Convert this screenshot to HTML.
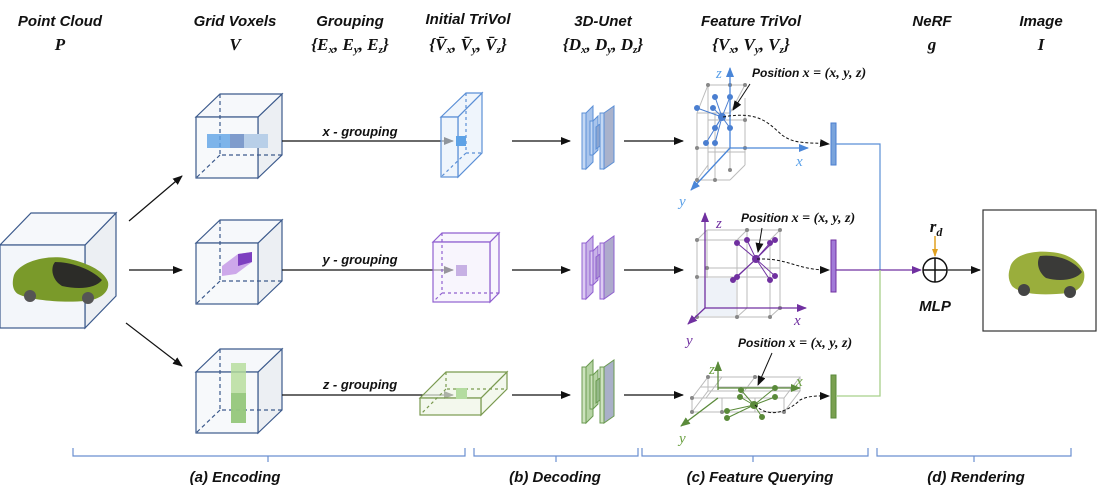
<!DOCTYPE html>
<html><head><meta charset="utf-8"><style>
body{margin:0;background:#fff}
svg{display:block}
.h{font-family:"Liberation Sans",sans-serif;font-weight:bold;font-style:italic;font-size:15px;fill:#111;text-anchor:middle}
.m{font-family:"Liberation Serif",serif;font-weight:bold;font-style:italic;font-size:17px;fill:#111;text-anchor:middle}
.g{font-family:"Liberation Sans",sans-serif;font-weight:bold;font-style:italic;font-size:13px;fill:#111;text-anchor:middle}
.p{font-family:"Liberation Sans",sans-serif;font-weight:bold;font-style:italic;font-size:12px;fill:#111}
.ax{font-family:"Liberation Serif",serif;font-style:italic;font-size:15px}
</style></head><body>
<svg width="1106" height="497" viewBox="0 0 1106 497" xmlns="http://www.w3.org/2000/svg">
<defs>
<marker id="a" markerWidth="10" markerHeight="8" refX="9" refY="4" orient="auto" markerUnits="userSpaceOnUse"><path d="M0,0L10,4L0,8z" fill="#111"/></marker>
<marker id="ab" markerWidth="10" markerHeight="8" refX="9" refY="4" orient="auto" markerUnits="userSpaceOnUse"><path d="M0,0L10,4L0,8z" fill="#4a86d8"/></marker>
<marker id="ap" markerWidth="10" markerHeight="8" refX="9" refY="4" orient="auto" markerUnits="userSpaceOnUse"><path d="M0,0L10,4L0,8z" fill="#7030a0"/></marker>
<marker id="ag" markerWidth="10" markerHeight="8" refX="9" refY="4" orient="auto" markerUnits="userSpaceOnUse"><path d="M0,0L10,4L0,8z" fill="#5a8a3a"/></marker>
<marker id="ao" markerWidth="8" markerHeight="6" refX="7" refY="3" orient="auto" markerUnits="userSpaceOnUse"><path d="M0,0L8,3L0,6z" fill="#e0a020"/></marker>
</defs>

<!-- headers -->
<text class="h" x="60" y="26">Point Cloud</text><text class="m" x="60" y="50">P</text>
<text class="h" x="235" y="26">Grid Voxels</text><text class="m" x="235" y="50">V</text>
<text class="h" x="350" y="26">Grouping</text><text class="m" x="350" y="50">{E<tspan font-size="11" dy="3">x</tspan><tspan dy="-3">, E</tspan><tspan font-size="11" dy="3">y</tspan><tspan dy="-3">, E</tspan><tspan font-size="11" dy="3">z</tspan><tspan dy="-3">}</tspan></text>
<text class="h" x="468" y="24">Initial TriVol</text><text class="m" x="468" y="50">{V̄<tspan font-size="11" dy="3">x</tspan><tspan dy="-3">, V̄</tspan><tspan font-size="11" dy="3">y</tspan><tspan dy="-3">, V̄</tspan><tspan font-size="11" dy="3">z</tspan><tspan dy="-3">}</tspan></text>
<text class="h" x="603" y="26">3D-Unet</text><text class="m" x="603" y="50">{D<tspan font-size="11" dy="3">x</tspan><tspan dy="-3">, D</tspan><tspan font-size="11" dy="3">y</tspan><tspan dy="-3">, D</tspan><tspan font-size="11" dy="3">z</tspan><tspan dy="-3">}</tspan></text>
<text class="h" x="751" y="26">Feature TriVol</text><text class="m" x="751" y="50">{V<tspan font-size="11" dy="3">x</tspan><tspan dy="-3">, V</tspan><tspan font-size="11" dy="3">y</tspan><tspan dy="-3">, V</tspan><tspan font-size="11" dy="3">z</tspan><tspan dy="-3">}</tspan></text>
<text class="h" x="932" y="26">NeRF</text><text class="m" x="932" y="50">g</text>
<text class="h" x="1041" y="26">Image</text><text class="m" x="1041" y="50">I</text>

<!-- point cloud cube -->
<g stroke="#3c5a8c" stroke-width="1.2" fill="#f3f6fa">
<path d="M85,245L116,213V296L85,328z" fill="#eceff3"/>
<path d="M0,245L31,213H116L85,245z" fill="#f6f8fb"/>
<rect x="0" y="245" width="85" height="83"/>
</g>
<g>
<path d="M14,275C20,262 45,255 65,258C85,262 104,270 108,282C110,292 100,300 85,301C60,303 30,300 18,294C12,290 12,282 14,275z" fill="#7a9a2a"/>
<path d="M55,262C70,262 90,268 102,280C96,288 80,290 62,286C52,280 50,268 55,262z" fill="#2c2c28"/>
<circle cx="30" cy="296" r="6" fill="#555"/><circle cx="88" cy="298" r="6" fill="#555"/>
</g>
<g stroke="#111" stroke-width="1.2" marker-end="url(#a)">
<line x1="129" y1="221" x2="182" y2="176"/>
<line x1="129" y1="270" x2="182" y2="270"/>
<line x1="126" y1="323" x2="182" y2="366"/>
</g>

<!-- grid cubes -->
<g id="cube">
<g stroke="#3c5a8c" stroke-width="1.2">
<path d="M258,117L282,94V155L258,178z" fill="#eceff3"/>
<path d="M196,117L220,94H282L258,117z" fill="#f6f8fb"/>
<rect x="196" y="117" width="62" height="61" fill="#f6f8fb" fill-opacity="0.9"/>
<path d="M220,94V155H282M220,155L196,178" fill="none" stroke-dasharray="4,3"/>
</g>
</g>
<use href="#cube" y="126"/>
<use href="#cube" y="255"/>
<rect x="207" y="134" width="61" height="14" fill="#5ea2e6" opacity="0.8"/>
<rect x="230" y="134" width="14" height="14" fill="#7f9ccc"/>
<rect x="244" y="134" width="24" height="14" fill="#b8cfe8"/>
<path d="M222,266L238,254L252,252L252,262L236,274L222,276z" fill="#c59ae6" opacity="0.85"/>
<path d="M238,254L252,252V262L238,266z" fill="#7d3fc0"/>
<rect x="231" y="363" width="15" height="60" fill="#b4dc98" opacity="0.8"/>
<rect x="231" y="393" width="15" height="30" fill="#90c478" opacity="0.8"/>

<g stroke="#111" stroke-width="1.2" marker-end="url(#a)">
<line x1="282" y1="141" x2="453" y2="141"/>
<line x1="282" y1="270" x2="453" y2="270"/>
<line x1="282" y1="395" x2="453" y2="395"/>
</g>
<text class="g" x="360" y="136">x - grouping</text>
<text class="g" x="360" y="264">y - grouping</text>
<text class="g" x="360" y="389">z - grouping</text>

<!-- initial trivols -->
<g stroke="#5b8fd6" stroke-width="1.2" fill="#e4eefa" fill-opacity="0.6">
<path d="M458,117L482,93V153L458,177z"/>
<path d="M441,117L466,93H482L458,117z"/>
<rect x="441" y="117" width="17" height="60"/>
<path d="M466,93V153H482M466,153L441,177" fill="none" stroke-dasharray="3,3"/>
</g>
<rect x="456" y="136" width="10" height="10" fill="#5ea2e6"/>
<g stroke="#9060d0" stroke-width="1.2" fill="#f4eefc" fill-opacity="0.6">
<path d="M490,242L499,233V293L490,302z"/>
<path d="M433,242L442,233H499L490,242z"/>
<rect x="433" y="242" width="57" height="60"/>
<path d="M442,233V293H499M442,293L433,302" fill="none" stroke-dasharray="3,3"/>
</g>
<rect x="456" y="265" width="11" height="11" fill="#c7b0e4"/>
<g stroke="#7a9a50" stroke-width="1.2" fill="#eef5e6" fill-opacity="0.7">
<path d="M481,398L507,372V389L481,415z"/>
<path d="M420,398L446,372H507L481,398z"/>
<rect x="420" y="398" width="61" height="17"/>
<path d="M446,372V389H507M446,389L420,415" fill="none" stroke-dasharray="3,3"/>
</g>
<rect x="456" y="388" width="11" height="11" fill="#b4dca0"/>

<g stroke="#111" stroke-width="1.2" marker-end="url(#a)">
<line x1="512" y1="141" x2="570" y2="141"/><line x1="624" y1="141" x2="683" y2="141"/>
<line x1="512" y1="270" x2="570" y2="270"/><line x1="624" y1="270" x2="683" y2="270"/>
<line x1="512" y1="395" x2="570" y2="395"/><line x1="624" y1="395" x2="683" y2="395"/>
</g>
<!-- unets -->
<g id="un" stroke="#5b8fd6" stroke-width="1">
<path d="M586,113L593,106V162L586,169z" fill="#a8c4ec"/>
<rect x="582" y="113" width="4" height="56" fill="#c4d8f4"/>
<path d="M593,121L598,116V150L593,155z" fill="#a8c4ec"/>
<rect x="590" y="121" width="3" height="34" fill="#c4d8f4"/>
<path d="M596,127L600,124V146L596,149z" fill="#8aa4d0"/>
<path d="M604,113L614,106V162L604,169z" fill="#a9b2cc"/>
<rect x="600" y="113" width="4" height="56" fill="#c4d8f4"/>
</g>
<g transform="translate(0,130)" stroke="#9060d0" stroke-width="1">
<path d="M586,113L593,106V162L586,169z" fill="#c8b2e8"/>
<rect x="582" y="113" width="4" height="56" fill="#dccbf2"/>
<path d="M593,121L598,116V150L593,155z" fill="#c8b2e8"/>
<rect x="590" y="121" width="3" height="34" fill="#dccbf2"/>
<path d="M596,127L600,124V146L596,149z" fill="#a890d0"/>
<path d="M604,113L614,106V162L604,169z" fill="#aeaacc"/>
<rect x="600" y="113" width="4" height="56" fill="#dccbf2"/>
</g>
<g transform="translate(0,254)" stroke="#6a9a50" stroke-width="1">
<path d="M586,113L593,106V162L586,169z" fill="#b6d4a4"/>
<rect x="582" y="113" width="4" height="56" fill="#cde3be"/>
<path d="M593,121L598,116V150L593,155z" fill="#b6d4a4"/>
<rect x="590" y="121" width="3" height="34" fill="#cde3be"/>
<path d="M596,127L600,124V146L596,149z" fill="#94b888"/>
<path d="M604,113L614,106V162L604,169z" fill="#a9b0c8"/>
<rect x="600" y="113" width="4" height="56" fill="#cde3be"/>
</g>

<!-- feature trivol x -->
<g stroke="#bbb" stroke-width="1" fill="none">
<path d="M697,113V180M715,113V180M730,100V170M745,98V165M697,113H730M697,148H730M697,180H730M708,85H745M708,120H745M708,152H745M708,85V170M697,113L708,85M730,113L745,85M697,180L708,165M730,180L745,165"/>
</g>
<g fill="#888"><circle cx="708" cy="85" r="2"/><circle cx="730" cy="85" r="2"/><circle cx="745" cy="85" r="2"/><circle cx="697" cy="148" r="2"/><circle cx="697" cy="180" r="2"/><circle cx="715" cy="180" r="2"/><circle cx="730" cy="170" r="2"/><circle cx="745" cy="148" r="2"/><circle cx="745" cy="120" r="2"/></g>
<g stroke="#4a7ed0" stroke-width="1" fill="#4a7ed0">
<line x1="722" y1="117" x2="715" y2="97"/><line x1="722" y1="117" x2="730" y2="97"/><line x1="722" y1="117" x2="697" y2="108"/><line x1="722" y1="117" x2="713" y2="108"/><line x1="722" y1="117" x2="715" y2="128"/><line x1="722" y1="117" x2="730" y2="128"/><line x1="722" y1="117" x2="706" y2="143"/><line x1="722" y1="117" x2="715" y2="143"/>
<circle cx="722" cy="117" r="3.5"/><circle cx="715" cy="97" r="2.5"/><circle cx="730" cy="97" r="2.5"/><circle cx="697" cy="108" r="2.5"/><circle cx="713" cy="108" r="2.5"/><circle cx="715" cy="128" r="2.5"/><circle cx="730" cy="128" r="2.5"/><circle cx="706" cy="143" r="2.5"/><circle cx="715" cy="143" r="2.5"/>
</g>
<g stroke="#4a86d8" stroke-width="1.3">
<line x1="730" y1="148" x2="730" y2="68" marker-end="url(#ab)"/>
<line x1="730" y1="148" x2="808" y2="148" marker-end="url(#ab)"/>
<line x1="730" y1="148" x2="691" y2="190" marker-end="url(#ab)"/>
</g>
<text class="ax" x="716" y="78" fill="#5aa0e8">z</text><text class="ax" x="796" y="166" fill="#5aa0e8">x</text><text class="ax" x="679" y="206" fill="#5aa0e8">y</text>
<text class="p" x="752" y="77">Position <tspan font-family="Liberation Serif" font-size="14">x = (x, y, z)</tspan></text>
<line x1="750" y1="84" x2="733" y2="110" stroke="#111" stroke-width="1" marker-end="url(#a)"/>
<path d="M723,117C760,110 770,125 782,135C795,145 810,142 829,144" stroke="#111" stroke-width="1" stroke-dasharray="3,2" fill="none" marker-end="url(#a)"/>
<rect x="831" y="123" width="5" height="42" fill="#7aa4dc" stroke="#4a7ed0"/>
<path d="M836,144H880V270" stroke="#5b8fd6" stroke-width="1.2" fill="none"/>

<!-- feature trivol y (purple) -->
<g stroke="#bbb" stroke-width="1" fill="none">
<path d="M697,240V317M737,240V317M770,240V317M707,230V308M747,230V308M780,230V308M697,240H770M697,277H770M697,317H770M707,230H780M707,268H780M707,308H780M697,240L707,230M770,240L780,230M697,317L707,308M770,317L780,308M737,240L747,230M737,317L747,308"/>
</g>
<rect x="698" y="278" width="38" height="38" fill="#eef2f8"/>
<g fill="#888"><circle cx="697" cy="240" r="2"/><circle cx="747" cy="230" r="2"/><circle cx="780" cy="230" r="2"/><circle cx="697" cy="277" r="2"/><circle cx="707" cy="268" r="2"/><circle cx="697" cy="317" r="2"/><circle cx="737" cy="317" r="2"/><circle cx="770" cy="317" r="2"/><circle cx="780" cy="308" r="2"/></g>
<g stroke="#7030a0" stroke-width="1" fill="#7030a0">
<line x1="756" y1="259" x2="737" y2="243"/><line x1="756" y1="259" x2="747" y2="240"/><line x1="756" y1="259" x2="770" y2="243"/><line x1="756" y1="259" x2="775" y2="240"/><line x1="756" y1="259" x2="733" y2="280"/><line x1="756" y1="259" x2="737" y2="277"/><line x1="756" y1="259" x2="770" y2="280"/><line x1="756" y1="259" x2="775" y2="276"/>
<circle cx="756" cy="259" r="3.5"/><circle cx="737" cy="243" r="2.5"/><circle cx="747" cy="240" r="2.5"/><circle cx="770" cy="243" r="2.5"/><circle cx="775" cy="240" r="2.5"/><circle cx="733" cy="280" r="2.5"/><circle cx="737" cy="277" r="2.5"/><circle cx="770" cy="280" r="2.5"/><circle cx="775" cy="276" r="2.5"/>
</g>
<g stroke="#7030a0" stroke-width="1.3">
<line x1="705" y1="308" x2="705" y2="213" marker-end="url(#ap)"/>
<line x1="705" y1="308" x2="806" y2="308" marker-end="url(#ap)"/>
<line x1="705" y1="308" x2="688" y2="324" marker-end="url(#ap)"/>
</g>
<text class="ax" x="716" y="228" fill="#7030a0">z</text><text class="ax" x="794" y="325" fill="#7030a0">x</text><text class="ax" x="686" y="345" fill="#7030a0">y</text>
<text class="p" x="741" y="222">Position <tspan font-family="Liberation Serif" font-size="14">x = (x, y, z)</tspan></text>
<line x1="762" y1="228" x2="758" y2="252" stroke="#111" stroke-width="1" marker-end="url(#a)"/>
<path d="M757,259C790,258 795,270 829,270" stroke="#111" stroke-width="1" stroke-dasharray="3,2" fill="none" marker-end="url(#a)"/>
<rect x="831" y="240" width="5" height="52" fill="#a27ad8" stroke="#7030a0"/>
<line x1="836" y1="270" x2="921" y2="270" stroke="#7030a0" stroke-width="1.3" marker-end="url(#ap)"/>

<!-- feature trivol z (green) -->
<g stroke="#bbb" stroke-width="1" fill="none">
<path d="M692,398L708,377H800L784,398zM692,412L708,391H800L784,412zM692,398V412M784,398V412M800,377V391M708,377V391M722,377L706,398M755,377L739,398M700,387H792M722,398V412M755,398V412"/>
</g>
<g fill="#888"><circle cx="708" cy="377" r="2"/><circle cx="755" cy="377" r="2"/><circle cx="692" cy="398" r="2"/><circle cx="692" cy="412" r="2"/><circle cx="722" cy="412" r="2"/><circle cx="784" cy="412" r="2"/></g>
<g stroke="#5a8a3a" stroke-width="1" fill="#5a8a3a">
<line x1="754" y1="405" x2="740" y2="397"/><line x1="754" y1="405" x2="741" y2="390"/><line x1="754" y1="405" x2="775" y2="397"/><line x1="754" y1="405" x2="775" y2="388"/><line x1="754" y1="405" x2="727" y2="411"/><line x1="754" y1="405" x2="762" y2="417"/><line x1="754" y1="405" x2="727" y2="418"/>
<circle cx="754" cy="405" r="3.5"/><circle cx="740" cy="397" r="2.5"/><circle cx="741" cy="390" r="2.5"/><circle cx="775" cy="397" r="2.5"/><circle cx="775" cy="388" r="2.5"/><circle cx="727" cy="411" r="2.5"/><circle cx="762" cy="417" r="2.5"/><circle cx="727" cy="418" r="2.5"/>
</g>
<g stroke="#5a8a3a" stroke-width="1.3">
<line x1="718" y1="390" x2="718" y2="362" marker-end="url(#ag)"/>
<line x1="718" y1="388" x2="800" y2="388" marker-end="url(#ag)"/>
<line x1="718" y1="398" x2="681" y2="426" marker-end="url(#ag)"/>
</g>
<text class="ax" x="709" y="374" fill="#6aa040">z</text><text class="ax" x="796" y="386" fill="#6aa040">x</text><text class="ax" x="679" y="443" fill="#6aa040">y</text>
<text class="p" x="738" y="347">Position <tspan font-family="Liberation Serif" font-size="14">x = (x, y, z)</tspan></text>
<line x1="772" y1="353" x2="758" y2="385" stroke="#111" stroke-width="1" marker-end="url(#a)"/>
<path d="M755,405C770,420 790,410 800,400C810,395 820,396 829,396" stroke="#111" stroke-width="1" stroke-dasharray="3,2" fill="none" marker-end="url(#a)"/>
<rect x="831" y="375" width="5" height="43" fill="#7aa050" stroke="#5a8a3a"/>
<path d="M836,396H880V270" stroke="#a8d08a" stroke-width="1.3" fill="none"/>

<!-- NeRF -->
<text class="m" x="936" y="232">r<tspan font-size="12" dy="4">d</tspan></text>
<line x1="935" y1="236" x2="935" y2="256" stroke="#e0a020" stroke-width="1.5" marker-end="url(#ao)"/>
<circle cx="935" cy="270" r="12" fill="#fff" stroke="#111" stroke-width="1.5"/>
<path d="M923,270H947M935,258V282" stroke="#111" stroke-width="1.5"/>
<line x1="947" y1="270" x2="980" y2="270" stroke="#444" stroke-width="1.5" marker-end="url(#a)"/>
<text class="h" x="935" y="311">MLP</text>
<rect x="983" y="210" width="113" height="121" fill="#fff" stroke="#333" stroke-width="1.2"/>
<g>
<path d="M1010,268C1012,256 1030,250 1050,252C1068,253 1080,262 1084,272C1086,282 1080,292 1068,293C1040,296 1020,294 1012,286C1008,280 1008,274 1010,268z" fill="#9aae3c"/>
<path d="M1040,256C1056,254 1074,260 1082,272C1076,280 1060,282 1046,278C1038,272 1036,262 1040,256z" fill="#3a3a38"/>
<circle cx="1024" cy="290" r="6" fill="#444"/><circle cx="1070" cy="292" r="6" fill="#444"/>
</g>

<!-- brackets -->
<g stroke="#6b8fd0" stroke-width="1.2" fill="none">
<path d="M73,448V456H465V448M268,456V462"/>
<path d="M474,448V456H638V448M556,456V462"/>
<path d="M642,448V456H868V448M753,456V462"/>
<path d="M877,448V456H1071V448M974,456V462"/>
</g>
<text class="h" x="235" y="482">(a) Encoding</text>
<text class="h" x="555" y="482">(b) Decoding</text>
<text class="h" x="760" y="482">(c) Feature Querying</text>
<text class="h" x="976" y="482">(d) Rendering</text>
</svg>
</body></html>
